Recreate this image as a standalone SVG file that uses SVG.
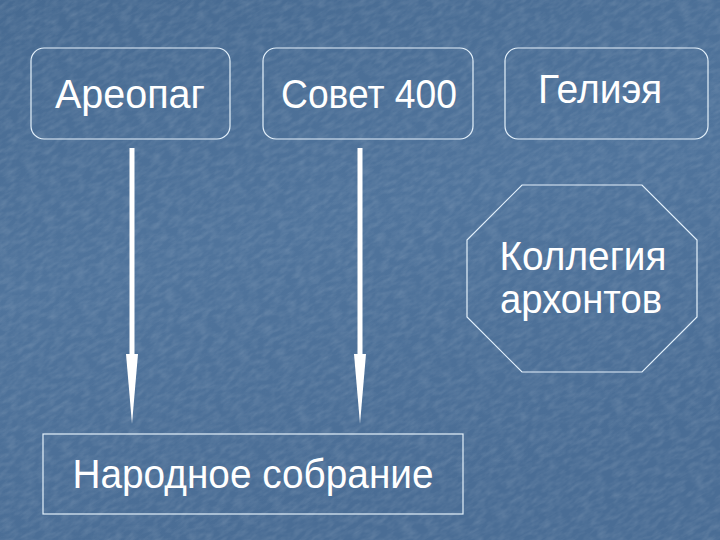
<svg xmlns="http://www.w3.org/2000/svg" width="720" height="540" viewBox="0 0 720 540">
  <defs>
    <linearGradient id="bg" x1="0" y1="0" x2="0.3" y2="1">
      <stop offset="0" stop-color="#476a91"/>
      <stop offset="0.5" stop-color="#50749c"/>
      <stop offset="1" stop-color="#4a6d95"/>
    </linearGradient>
    <filter id="tex" x="0" y="0" width="100%" height="100%">
      <feTurbulence type="fractalNoise" baseFrequency="0.09 0.22" numOctaves="3" seed="4" result="n"/>
      <feColorMatrix type="matrix" values="0 0 0 0 1  0 0 0 0 1  0 0 0 0 1  0 0 0 0.22 -0.08" in="n"/>
    </filter>
    <marker id="head" markerUnits="userSpaceOnUse" viewBox="0 0 70 12" refX="0" refY="6" markerWidth="70" markerHeight="12" orient="auto">
      <path d="M0,0 L70,6 L0,12 z" fill="#ffffff"/>
    </marker>
    <style>
      .box { fill: none; stroke: #e3f0fb; stroke-width: 1.2; }
      .lbl { fill: #ffffff; font-family: "Liberation Sans", Arial, sans-serif; font-size: 40px; text-anchor: middle; }
      .conn { stroke: #ffffff; stroke-width: 5; fill: none; }
    </style>
  </defs>
  <rect width="720" height="540" fill="url(#bg)"/>
  <rect width="720" height="540" filter="url(#tex)" transform="rotate(-30 360 270)" x="-200" y="-200" style="width:1120px;height:940px"/>

  <g id="areopag">
    <rect class="box" x="31" y="48" width="199" height="91" rx="13"/>
    <text class="lbl" x="130" y="108" textLength="150" lengthAdjust="spacingAndGlyphs">Ареопаг</text>
  </g>
  <g id="sovet400">
    <rect class="box" x="263" y="48" width="210" height="91" rx="13"/>
    <text class="lbl" x="369" y="108" textLength="176" lengthAdjust="spacingAndGlyphs">Совет 400</text>
  </g>
  <g id="geliea">
    <rect class="box" x="505" y="48" width="203" height="91" rx="13"/>
    <text class="lbl" x="600" y="103" textLength="124" lengthAdjust="spacingAndGlyphs">Гелиэя</text>
  </g>
  <g id="archons">
    <polygon class="box" points="522,185 642,185 697,240 697,317 642,372 522,372 467,317 467,240"/>
    <text class="lbl" x="583" y="270" textLength="167" lengthAdjust="spacingAndGlyphs">Коллегия</text>
    <text class="lbl" x="581" y="313" textLength="162" lengthAdjust="spacingAndGlyphs">архонтов</text>
  </g>
  <g id="narodnoe">
    <rect class="box" x="43" y="434" width="420" height="80"/>
    <text class="lbl" x="253" y="488" textLength="361" lengthAdjust="spacingAndGlyphs">Народное собрание</text>
  </g>

  <g id="connectors">
    <line class="conn" x1="132" y1="148" x2="132" y2="354" marker-end="url(#head)"/>
    <line class="conn" x1="360" y1="148" x2="360" y2="354" marker-end="url(#head)"/>
  </g>
</svg>
